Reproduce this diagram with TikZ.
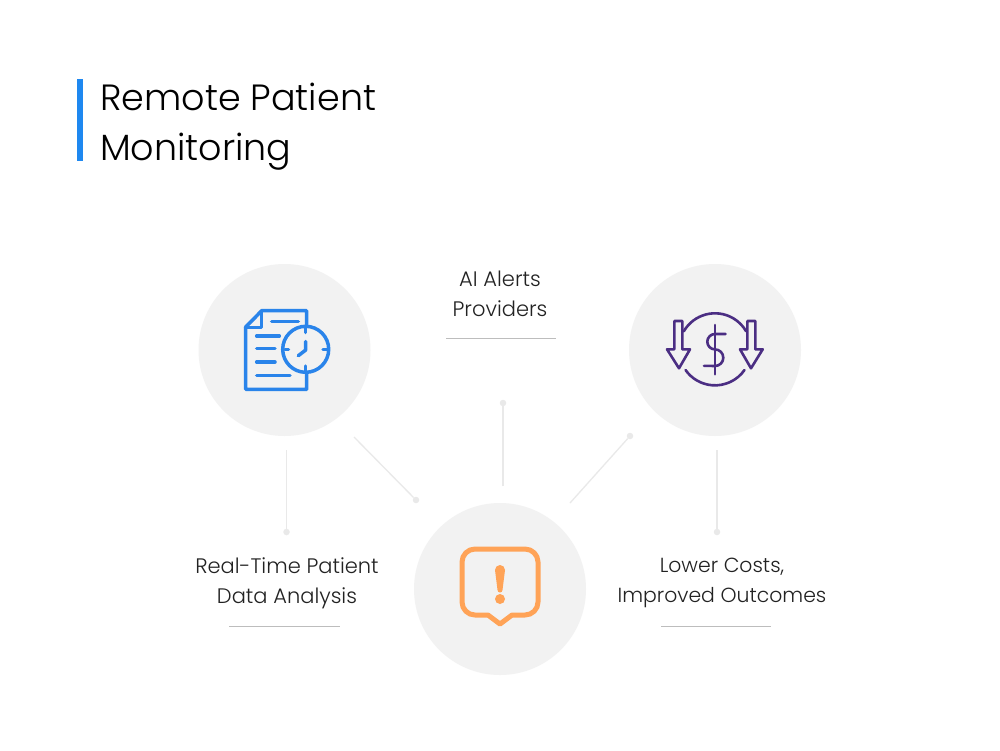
\documentclass[tikz,border=0pt]{standalone}
\usepackage{fontspec}
\setmainfont{Poppins Light}
\definecolor{blueA}{HTML}{2A84EA}
\definecolor{bar}{HTML}{1E88F0}
\definecolor{purpleA}{HTML}{4B2E83}
\definecolor{orangeA}{HTML}{FFA357}
\definecolor{disc}{HTML}{F2F2F2}
\definecolor{conn}{HTML}{E9E9E9}
\definecolor{rulec}{HTML}{BDBDBD}
\definecolor{ink}{HTML}{222222}
\tikzset{
 x=1pt,y=-1pt,
 discnode/.style={circle,fill=disc,minimum size=172pt,inner sep=0pt},
 label/.style={align=center,text=ink,font=\fontsize{21}{30}\selectfont,inner sep=0pt},
 labelsmall/.style={align=center,text=ink,font=\fontsize{20.4}{30}\selectfont,inner sep=0pt},
 connector/.style={draw=conn,line width=1.3pt},
 enddot/.style={circle,fill=conn,minimum size=6.5pt,inner sep=0pt},
 underl/.style={draw=rulec,line width=0.8pt},
 iconblue/.style={draw=blueA,line width=3.5pt,line cap=round,line join=round},
 iconpurple/.style={draw=purpleA,line width=2.6pt,line cap=round,line join=round},
 iconorange/.style={draw=orangeA,line width=5pt,line cap=round,line join=round},
}
\begin{document}
\begin{tikzpicture}
\useasboundingbox[fill=white] (0,0) rectangle (1000,750);
% title
\fill[bar] (77,79) rectangle (83,161);
\node[anchor=west,text=black,align=left,inner sep=0pt,font=\fontsize{36.5}{50}\selectfont] (title) at (100,127) {Remote Patient\\Monitoring};
% discs
\node[discnode] (docs) at (284.5,350) {};
\node[discnode] (cost) at (715,350) {};
\node[discnode] (alert) at (500,589) {};
% labels
\node[label] (l1) at (500,294) {AI Alerts\\Providers};
\node[label] (l2) at (287,583) {Real-Time Patient\\Data Analysis};
\node[labelsmall] (l3) at (722,583) {Lower Costs,\\Improved Outcomes};
% underlines
\coordinate (u1a) at (446,338); \coordinate (u1b) at (556,338);
\coordinate (u2a) at (229,626.5); \coordinate (u2b) at (340,626.5);
\coordinate (u3a) at (661,626.5); \coordinate (u3b) at (771,626.5);
\draw[underl] (u1a) -- (u1b);
\draw[underl] (u2a) -- (u2b);
\draw[underl] (u3a) -- (u3b);
% connectors
\coordinate (c1s) at (286.5,450); \node[enddot] (c1e) at (286.5,532) {};
\coordinate (c2s) at (354,437);   \node[enddot] (c2e) at (416,500) {};
\coordinate (c3s) at (503,486);   \node[enddot] (c3e) at (503,403) {};
\coordinate (c4s) at (570,503);   \node[enddot] (c4e) at (630,436) {};
\coordinate (c5s) at (717,450);   \node[enddot] (c5e) at (717,532) {};
\draw[connector] (c1s) -- (c1e);
\draw[connector] (c2s) -- (c2e);
\draw[connector] (c3s) -- (c3e);
\draw[connector] (c4s) -- (c4e);
\draw[connector] (c5s) -- (c5e);
% document icon
\draw[iconblue] (306.7,326) -- (306.7,310.7) -- (261.7,310.7) -- (245.7,327) -- (245.7,389.3) -- (306.7,389.3) -- (306.7,373);
\draw[iconblue] (261.7,310.7) -- (261.7,327.5) -- (245.7,327.5);
\draw[iconblue] (271.7,321.7) -- (298.3,321.7);
\draw[iconblue] (256.7,336) -- (279.3,336);
\draw[iconblue] (256.7,348.7) -- (275,348.7);
\draw[iconblue] (256.7,362) -- (275,362);
\draw[iconblue] (256.7,375.7) -- (290,375.7);
\draw[iconblue] (305.7,349.3) circle[radius=23];
\draw[iconblue] (305.7,327) -- (305.7,332.5);
\draw[iconblue] (305.7,366) -- (305.7,371.5);
\draw[iconblue] (285,349.3) -- (288.5,349.3);
\draw[iconblue] (323,349.3) -- (326.5,349.3);
\draw[iconblue] (305.7,341.5) -- (305.7,350) -- (298.3,355.7);
% dollar icon
\draw[iconpurple] (683.8,331.3) arc[start angle=-150,end angle=-30,radius=36];
\draw[iconpurple] (744.5,370) arc[start angle=35,end angle=145,radius=36];
\draw[iconpurple] (674.3,321) -- (682.3,321) -- (682.3,349.3) -- (690,349.3) -- (679,368.3) -- (667,349.3) -- (674.3,349.3) -- cycle;
\draw[iconpurple] (747.3,321) -- (755.3,321) -- (755.3,349.3) -- (762.7,349.3) -- (751,368.3) -- (740,349.3) -- (747.3,349.3) -- cycle;
\draw[iconpurple] (715,325) -- (715,374.3);
\draw[iconpurple] (725.5,334) -- (715,334) arc[start angle=-90,end angle=-270,radius=7.7] arc[start angle=-90,end angle=90,radius=8.3] -- (704,365.8);
% alert icon
\draw[iconorange] (475,549) -- (525,549) arc[start angle=-90,end angle=0,radius=13] -- (538,602) arc[start angle=0,end angle=90,radius=13] -- (512,615) -- (500,624) -- (488,615) -- (475,615) arc[start angle=90,end angle=180,radius=13] -- (462,562) arc[start angle=180,end angle=270,radius=13] -- cycle;
\fill[orangeA] (495,570) arc[start angle=180,end angle=360,radius=5] -- (502.5,590) arc[start angle=0,end angle=180,radius=2.5] -- cycle;
\fill[orangeA] (500,599) circle[radius=5];
\end{tikzpicture}
\end{document}
